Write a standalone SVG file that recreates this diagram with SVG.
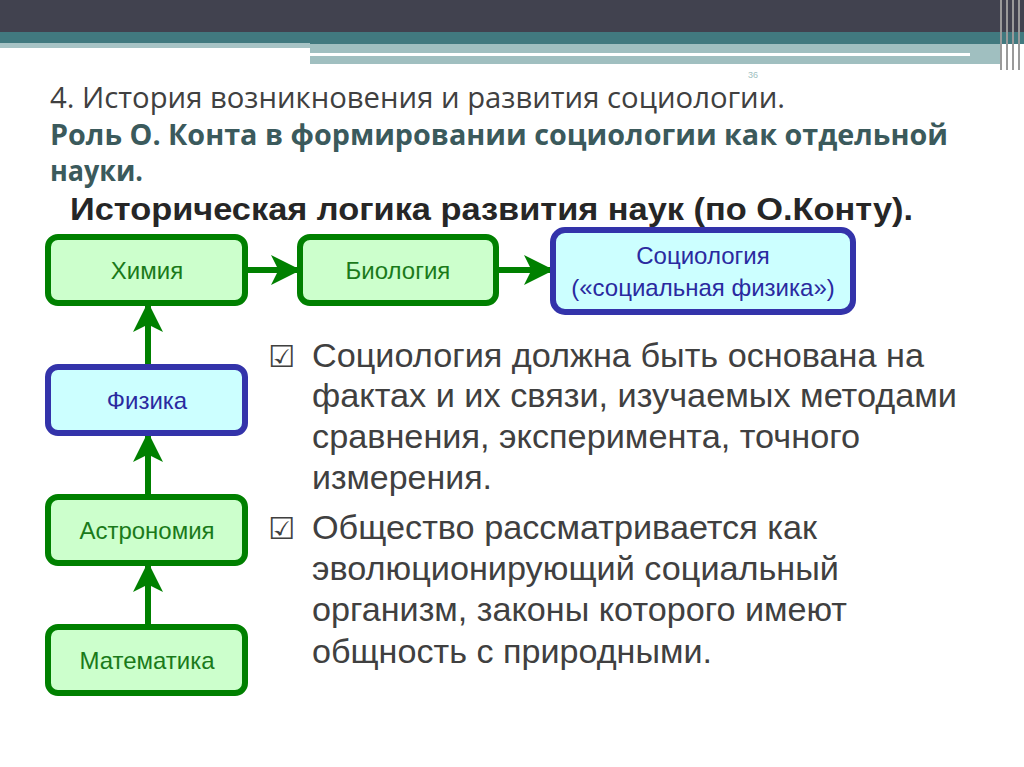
<svg xmlns="http://www.w3.org/2000/svg" width="1024" height="767" viewBox="0 0 1024 767">
<defs>
<style>
.g rect{fill:#ccffcc;stroke:#008000;stroke-width:6}
.b rect{fill:#ccffff;stroke:#3333aa;stroke-width:6}
.g text{fill:#1a7a1a}
.b text{fill:#2a2aa0}
text{font-family:"Liberation Sans",Arial,sans-serif}
.n{font-size:24px;text-anchor:middle}
.t{font-size:33px;fill:#404040}
.c{font-size:30px;fill:#404040;font-family:"DejaVu Sans",sans-serif}
.h{font-family:"Open Sans","Liberation Sans",sans-serif;font-size:29px}
</style>
<marker id="a" viewBox="0 0 20 20" refX="18" refY="10" markerWidth="5" markerHeight="5" markerUnits="strokeWidth" orient="auto"><path d="M0,0L20,10L0,20L5,10Z" fill="#008000"/></marker>
</defs>
<rect width="1024" height="767" fill="#fff"/>
<rect width="1024" height="32" fill="#41424f"/>
<rect y="32" width="1024" height="12" fill="#41797f"/>
<rect y="43" width="310" height="5" fill="#a7c3c5"/>
<rect x="310" y="44" width="690" height="20" fill="#a0bfc0"/>
<rect x="310" y="53" width="660" height="3" fill="#fff"/>
<rect x="845" y="64" width="160" height="3" fill="#fff"/>
<g fill="#9a9a9a"><rect x="1000" y="0" width="2" height="70"/><rect x="1006" y="0" width="2" height="70"/><rect x="1012" y="0" width="2" height="70"/><rect x="1018" y="0" width="2" height="70"/></g>
<text x="50" y="108" class="h" fill="#404040" textLength="735" lengthAdjust="spacingAndGlyphs">4. История возникновения и развития социологии.</text>
<text x="748" y="78" font-size="9" fill="#a0bfc0">36</text>
<text x="50" y="145" class="h" font-weight="bold" fill="#3b5a5c" textLength="898" lengthAdjust="spacingAndGlyphs">Роль О. Конта в формировании социологии как отдельной</text>
<text x="50" y="181" class="h" font-weight="bold" fill="#3b5a5c" textLength="93" lengthAdjust="spacingAndGlyphs">науки.</text>
<text x="70" y="220" font-size="31" font-weight="bold" fill="#262626" textLength="843" lengthAdjust="spacingAndGlyphs">Историческая логика развития наук (по О.Конту).</text>
<g id="connectors" stroke="#008000" stroke-width="6" fill="none">
<line x1="245" y1="270" x2="298" y2="270" marker-end="url(#a)"/>
<line x1="496" y1="270" x2="551" y2="270" marker-end="url(#a)"/>
<line x1="148" y1="367" x2="148" y2="305" marker-end="url(#a)"/>
<line x1="148" y1="497" x2="148" y2="435" marker-end="url(#a)"/>
<line x1="148" y1="627" x2="148" y2="565" marker-end="url(#a)"/>
</g>
<g id="n1" class="g"><rect x="48" y="237" width="197" height="66" rx="10"/><text class="n" x="147" y="279">Химия</text></g>
<g id="n2" class="g"><rect x="300" y="237" width="196" height="66" rx="10"/><text class="n" x="398" y="279">Биология</text></g>
<g id="n3" class="b"><rect x="553" y="230" width="300" height="82" rx="12"/><text class="n" x="703" y="264">Социология</text><text class="n" x="703" y="296">(«социальная физика»)</text></g>
<g id="n4" class="b"><rect x="48" y="367" width="197" height="66" rx="10"/><text class="n" x="147" y="409">Физика</text></g>
<g id="n5" class="g"><rect x="48" y="497" width="197" height="66" rx="10"/><text class="n" x="147" y="539">Астрономия</text></g>
<g id="n6" class="g"><rect x="48" y="627" width="197" height="66" rx="10"/><text class="n" x="147" y="669">Математика</text></g>
<g>
<text x="268" y="367" class="c">☑</text>
<text x="312" y="367" class="t" textLength="612" lengthAdjust="spacingAndGlyphs">Социология должна быть основана на</text>
<text x="312" y="407" class="t" textLength="645" lengthAdjust="spacingAndGlyphs">фактах и их связи, изучаемых методами</text>
<text x="312" y="448" class="t" textLength="548" lengthAdjust="spacingAndGlyphs">сравнения, эксперимента, точного</text>
<text x="312" y="489" class="t" textLength="180" lengthAdjust="spacingAndGlyphs">измерения.</text>
<text x="268" y="539" class="c">☑</text>
<text x="312" y="539" class="t" textLength="505" lengthAdjust="spacingAndGlyphs">Общество рассматривается как</text>
<text x="312" y="580" class="t" textLength="527" lengthAdjust="spacingAndGlyphs">эволюционирующий социальный</text>
<text x="312" y="621" class="t" textLength="535" lengthAdjust="spacingAndGlyphs">организм, законы которого имеют</text>
<text x="312" y="663" class="t" textLength="400" lengthAdjust="spacingAndGlyphs">общность с природными.</text>
</g>
</svg>
